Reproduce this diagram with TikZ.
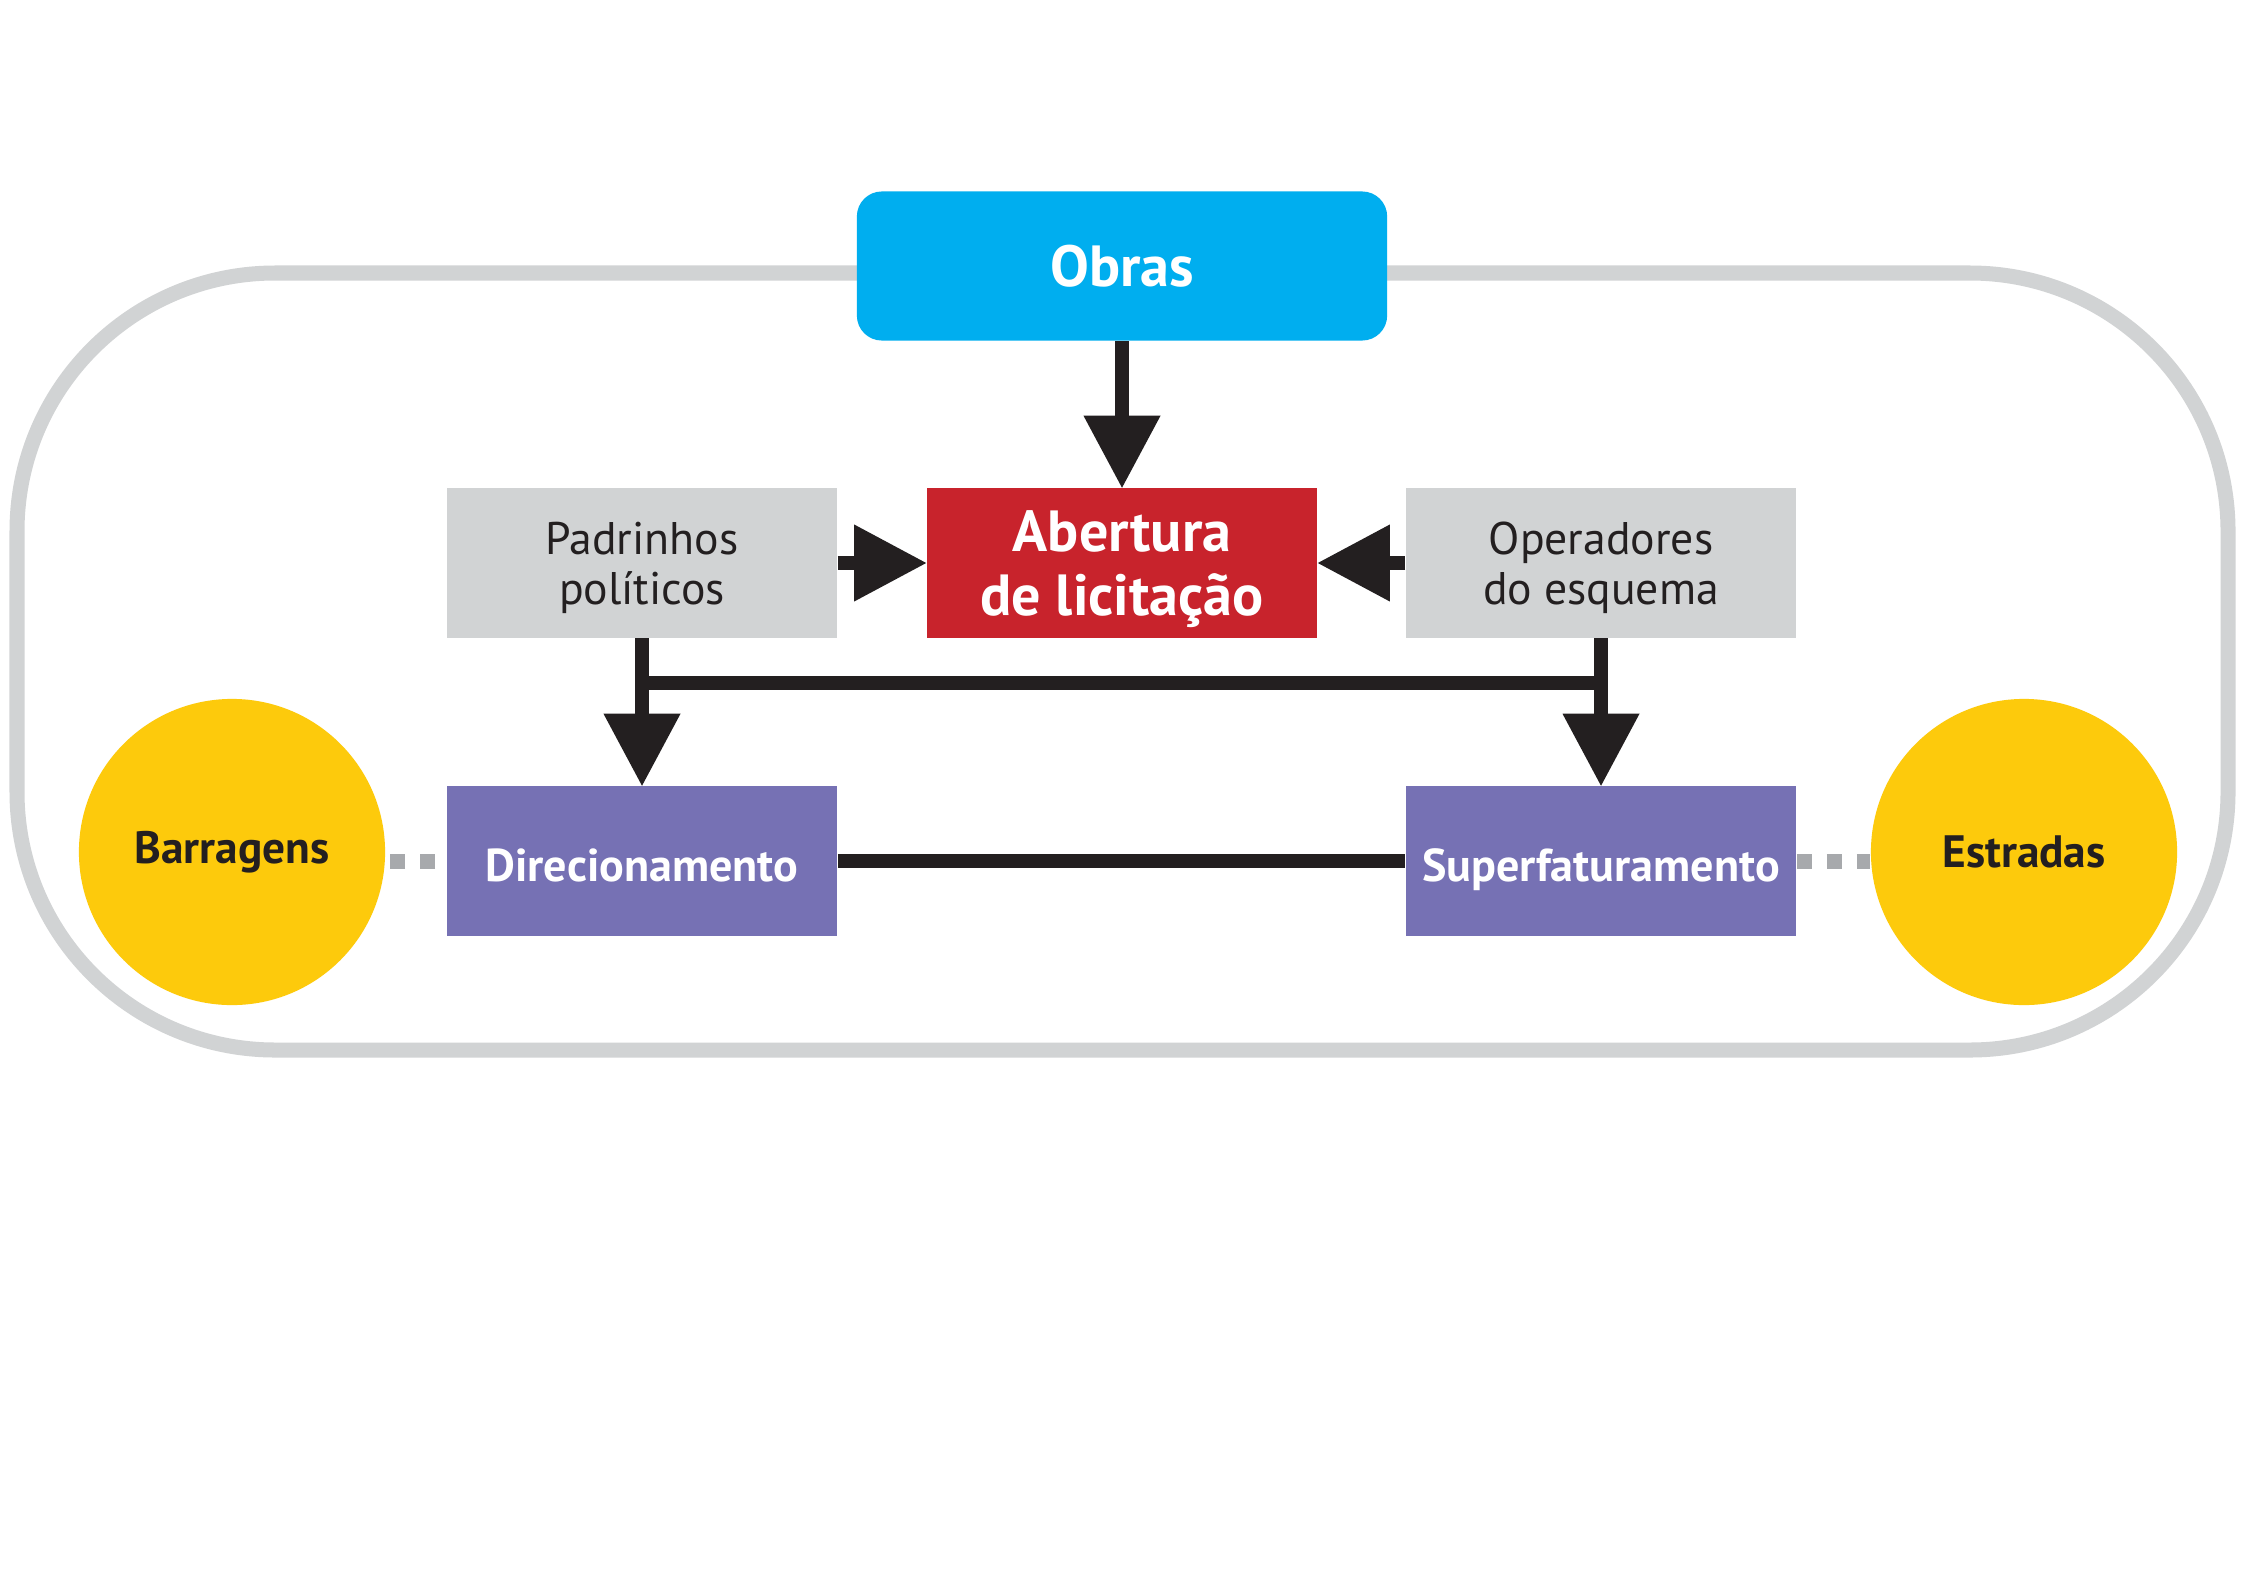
\documentclass[tikz,border=0pt]{standalone}
\usepackage{fontspec}
\setmainfont{PT Sans}
\usetikzlibrary{arrows.meta,calc}

\definecolor{ink}{HTML}{231F20}
\definecolor{obrablue}{HTML}{00AEEF}
\definecolor{licred}{HTML}{C8232C}
\definecolor{boxgray}{HTML}{D1D3D4}
\definecolor{schemepurple}{HTML}{7671B4}
\definecolor{spotyellow}{HTML}{FDCA0C}
\definecolor{dotgray}{HTML}{A7A9AC}

\begin{document}
\begin{tikzpicture}[x=0.01cm, y=-0.01cm,
  box/.style={rectangle, minimum width=3.9cm, minimum height=1.49cm, inner sep=0pt, align=center},
  bigtext/.style={font=\fontsize{16.5}{18}\selectfont\bfseries, text=white},
  graybox/.style={box, fill=boxgray, text=ink, text depth=-1pt, font=\fontsize{13}{14.2}\selectfont},
  purplebox/.style={box, fill=schemepurple, text=white, text height=11.7pt, text depth=0pt,
    font=\fontsize{13.1}{14}\selectfont\bfseries},
  spot/.style={circle, fill=spotyellow, minimum size=3.06cm, inner sep=0pt, text=ink,
    font=\fontsize{12.9}{14}\selectfont\bfseries},
  flow/.style={draw=ink, line width=0.14cm, -{Triangle[length=0.72cm, width=0.77cm, line width=0pt]}},
  link/.style={draw=ink, line width=0.14cm},
  dots/.style={draw=dotgray, line width=0.15cm, dash pattern=on 0.15cm off 0.15cm}]

    \useasboundingbox[fill=white] (0,0) rectangle (2246,1588);

    % Outer frame
    \draw[boxgray, line width=0.15cm, rounded corners=2.58cm] (17,273) rectangle (2228,1050);

    % Top
    \node[box, fill=obrablue, rounded corners=0.25cm, minimum width=5.3cm, bigtext] (obras) at (1122,266) {Obras};
    \node[box, fill=licred, bigtext, text depth=0pt] (abertura) at (1122,563) {Abertura\\de licitação};

    % Middle row
    \node[graybox] (padrinhos) at (642,563) {Padrinhos\\políticos};
    \node[graybox] (operadores) at (1601,563) {Operadores\\do esquema};

    % Bottom row
    \node[purplebox] (direc) at (642,861) {Direcionamento};
    \node[purplebox] (superf) at (1601,861) {Superfaturamento};

    % Sectors
    \node[spot] (barragens) at (232,852) {Barragens};
    \node[spot] (estradas) at (2024,852) {Estradas};

    % Connections
    \draw[flow] (obras) -- (abertura);
    \draw[flow] (padrinhos) -- (abertura);
    \draw[flow] (operadores) -- (abertura);
    \draw[flow] (padrinhos) -- (direc);
    \draw[flow] (operadores) -- (superf);
    \draw[link] ($(padrinhos.south)!0.3!(direc.north)$) -- ($(operadores.south)!0.3!(superf.north)$);
    \draw[link] (direc) -- (superf);

    % Dotted links to sectors
    \draw[dots, dash phase=0.19cm] (direc.west) -- (direc.west -| barragens.east);
    \draw[dots] (superf.east) -- (superf.east -| estradas.west);
  \end{tikzpicture}
\end{document}
